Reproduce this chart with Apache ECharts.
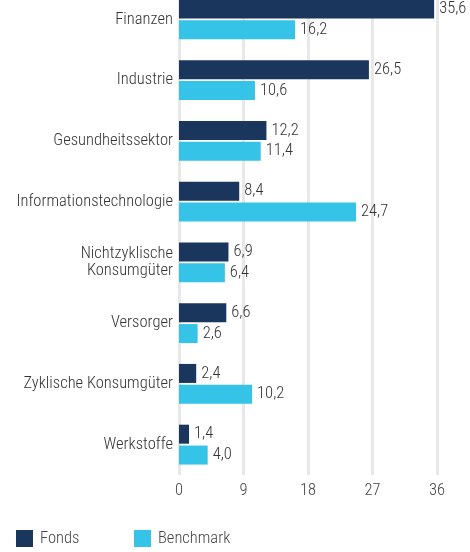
<!DOCTYPE html>
<html>
<head>
<meta charset="utf-8">
<script src="https://cdn.jsdelivr.net/npm/echarts@6/dist/echarts.min.js"></script>
<style>
  html, body { margin: 0; padding: 0; background: #fff; }
  #chart { width: 470px; height: 552px; }
</style>
</head>
<body>
<div id="chart"></div>
<script>
const categories = ['Finanzen', 'Industrie', 'Gesundheitssektor', 'Informationstechnologie',
    'Nichtzyklische\nKonsumgüter', 'Versorger', 'Zyklische Konsumgüter', 'Werkstoffe'];
const fonds = [35.6, 26.5, 12.2, 8.4, 6.9, 6.6, 2.4, 1.4];
const benchmark = [16.2, 10.6, 11.4, 24.7, 6.4, 2.6, 10.2, 4.0];
const xTicks = [0, 9, 18, 27, 36];

const FONT = '"Roboto Condensed", "Liberation Sans Narrow", sans-serif';
const fmt = v => v.toFixed(1).replace('.', ',');

const chart = echarts.init(document.getElementById('chart'));

const labelStyle = {
    show: true,
    position: 'right',
    distance: 5,
    fontFamily: FONT,
    fontSize: 16.5,
    fontWeight: 300,
    color: '#333',
    formatter: p => fmt(p.value)
};

const legendBase = {
    bottom: 5,
    padding: 0,
    itemWidth: 17,
    itemHeight: 17,
    itemGap: 0,
    icon: 'rect',
    textStyle: {fontFamily: FONT, fontSize: 16.5, fontWeight: 300, color: '#444', padding: [0, 0, 0, 2]}
};

chart.setOption({
    animation: false,
    textStyle: {fontFamily: FONT},
    grid: {left: 179, right: 33, top: -11, bottom: 77, outerBoundsMode: 'none', containLabel: false},
    legend: [
        Object.assign({left: 16, data: ['Fonds']}, legendBase),
        Object.assign({left: 134, data: ['Benchmark']}, legendBase)
    ],
    xAxis: {
        type: 'value',
        min: 0,
        max: 36,
        interval: 9,
        axisLine: {show: false},
        axisTick: {show: false},
        axisLabel: {fontFamily: FONT, fontSize: 16.5, fontWeight: 300, color: '#444', margin: 7,
            formatter: v => xTicks.includes(v) ? String(v) : ''},
        splitLine: {show: true, lineStyle: {color: '#e8e8e8', width: 3}}
    },
    yAxis: {
        type: 'category',
        inverse: true,
        data: categories,
        axisLine: {show: false},
        axisTick: {show: false},
        axisLabel: {fontFamily: FONT, fontSize: 16.5, fontWeight: 300, color: '#333', margin: 6,
            lineHeight: 17, padding: [5, 0, 0, 0]}
    },
    series: [
        {
            name: 'Fonds',
            type: 'bar',
            data: fonds,
            barWidth: 19,
            barGap: '10%',
            itemStyle: {color: '#1b365d'},
            label: labelStyle
        },
        {
            name: 'Benchmark',
            type: 'bar',
            data: benchmark,
            barWidth: 19,
            barGap: '10%',
            itemStyle: {color: '#36c3e8'},
            label: labelStyle
        }
    ]
});
</script>
</body>
</html>
